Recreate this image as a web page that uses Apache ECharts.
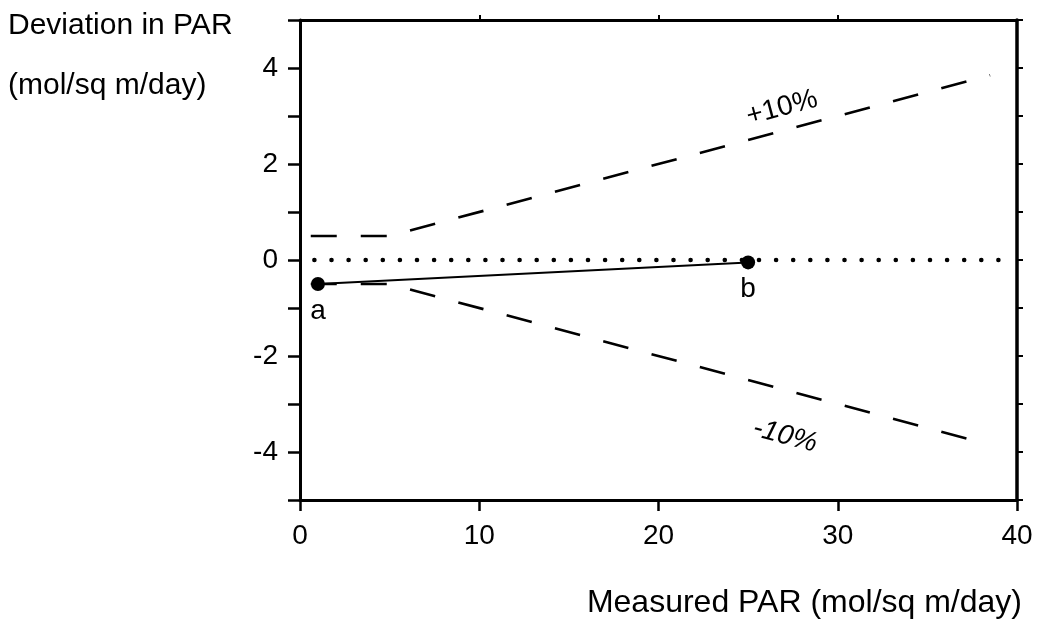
<!DOCTYPE html>
<html>
<head>
<meta charset="utf-8">
<script src="https://cdn.jsdelivr.net/npm/echarts@6/dist/echarts.min.js"></script>
<style>
  html, body { margin: 0; padding: 0; background: #fff; }
  #chart { width: 1042px; height: 627px; }
</style>
</head>
<body>
<div id="chart"></div>
<script>
// data
const plusTen = [[0.6, 0.5], [5, 0.5], [38.5, 3.85]];
const minusTen = [[0.6, -0.5], [5, -0.5], [38.3, -3.83]];
const zeroLine = [[0.8, 0], [39.5, 0]];
const pointsAB = [[1, -0.5], [25, -0.05]];
const pointNames = ['a', 'b'];
const xTicks = [0, 10, 20, 30, 40];
const yTicks = [-4, -2, 0, 2, 4];

const font = '"Liberation Sans", Arial, sans-serif';
let myChart = echarts.init(document.getElementById('chart'));

const dashStyle = { color: '#000', width: 2.6, type: [26, 24] };

myChart.setOption({
  animation: false,
  grid: { left: 300, right: 25, top: 20, bottom: 127 },
  xAxis: [
    {
      type: 'value', min: 0, max: 40, interval: 10,
      axisLine: { onZero: false, lineStyle: { color: '#000', width: 3 } },
      axisTick: { length: 11, lineStyle: { color: '#000', width: 2.5 } },
      axisLabel: {
        color: '#000', fontFamily: font, fontSize: 28, margin: 22,
        formatter: (v) => (xTicks.indexOf(v) >= 0 ? String(v) : '')
      },
      splitLine: { show: false }
    },
    {
      type: 'value', position: 'top', min: 0, max: 40, interval: 10,
      axisLine: { onZero: false, lineStyle: { color: '#000', width: 3 } },
      axisTick: {
        length: 5, lineStyle: { color: '#000', width: 2 },
        customValues: [10, 20, 30]
      },
      axisLabel: { show: false },
      splitLine: { show: false }
    }
  ],
  yAxis: [
    {
      type: 'value', min: -5, max: 5, interval: 1,
      axisLine: { onZero: false, lineStyle: { color: '#000', width: 3 } },
      axisTick: { length: 12, lineStyle: { color: '#000', width: 2.5 } },
      axisLabel: {
        color: '#000', fontFamily: font, fontSize: 28, margin: 22,
        formatter: (v) => (yTicks.indexOf(v) >= 0 ? String(v) : '')
      },
      splitLine: { show: false }
    },
    {
      type: 'value', position: 'right', min: -5, max: 5, interval: 1,
      axisLine: { onZero: false, lineStyle: { color: '#000', width: 3.5 } },
      axisTick: { length: 6, lineStyle: { color: '#000', width: 2 } },
      axisLabel: { show: false },
      splitLine: { show: false }
    }
  ],
  graphic: [
    { type: 'text', left: 8, top: 11,
      style: { text: 'Deviation in PAR', font: '30px ' + font, fill: '#000' } },
    { type: 'text', left: 8, top: 71,
      style: { text: '(mol/sq m/day)', font: '30px ' + font, fill: '#000' } },
    { type: 'text', right: 20, top: 587,
      style: { text: 'Measured PAR (mol/sq m/day)', font: '32px ' + font, fill: '#000' } },
    { type: 'text', x: 782, y: 108, rotation: 15 * Math.PI / 180,
      style: { text: '+10%', font: '28px ' + font, fill: '#000', align: 'center', verticalAlign: 'middle' } },
    { type: 'text', x: 785, y: 436, rotation: -15 * Math.PI / 180,
      style: { text: '-10%', font: 'italic 28px ' + font, fill: '#000', align: 'center', verticalAlign: 'middle' } }
  ],
  series: [
    {
      type: 'line', data: plusTen, symbol: 'none',
      lineStyle: dashStyle
    },
    {
      type: 'line', data: minusTen, symbol: 'none',
      lineStyle: dashStyle
    },
    {
      type: 'line', data: zeroLine, symbol: 'none',
      lineStyle: { color: '#000', width: 4.5, type: [0.1, 17], cap: 'round' }
    },
    {
      type: 'line', data: pointsAB, symbol: 'circle', symbolSize: 14,
      itemStyle: { color: '#000' },
      lineStyle: { color: '#000', width: 2 },
      label: {
        show: true, position: 'bottom', distance: 6,
        color: '#000', fontFamily: font, fontSize: 28,
        formatter: (p) => pointNames[p.dataIndex]
      }
    }
  ]
});
</script>
</body>
</html>
